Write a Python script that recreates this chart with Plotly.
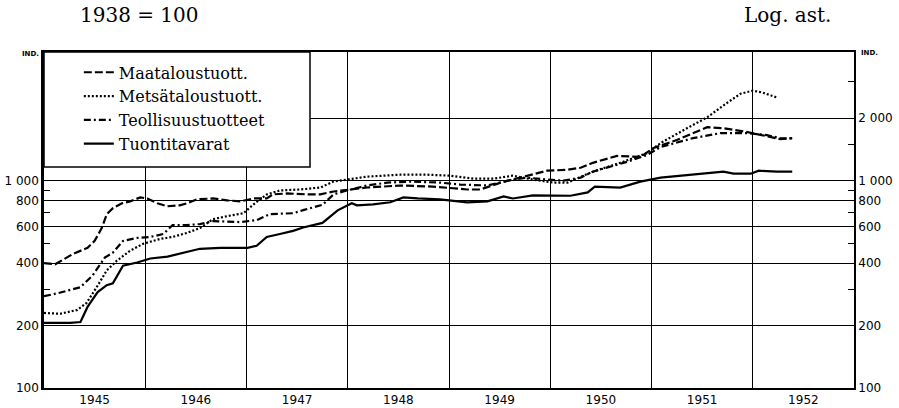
import plotly.graph_objects as go

# ---- data (index, 1938 = 100) ----
maat_t = [1945.0, 1945.11, 1945.29, 1945.43, 1945.50, 1945.57, 1945.62, 1945.68, 1945.77, 1945.85,
          1945.95, 1946.02, 1946.12, 1946.22, 1946.34, 1946.41, 1946.51, 1946.67, 1946.81, 1946.94,
          1947.07, 1947.20, 1947.26, 1947.40, 1947.60, 1947.73, 1947.86, 1948.19, 1948.52, 1948.84,
          1949.18, 1949.31, 1949.51, 1949.77, 1949.97, 1950.17, 1950.30, 1950.42, 1950.66, 1950.89,
          1951.02, 1951.25, 1951.55, 1951.71, 1951.95, 1952.14, 1952.27, 1952.39]
maat_v = [400, 395, 444, 474, 512, 590, 689, 736, 777, 794,
          830, 820, 777, 752, 760, 777, 812, 820, 803, 794,
          820, 820, 858, 867, 858, 858, 886, 926, 947, 936,
          906, 906, 978, 1056, 1116, 1128, 1153, 1218, 1315, 1301,
          1436, 1568, 1809, 1788, 1712, 1638, 1585, 1602]

mets_t = [1945.0, 1945.16, 1945.33, 1945.42, 1945.52, 1945.62, 1945.72, 1945.85, 1945.98, 1946.15,
          1946.27, 1946.41, 1946.54, 1946.67, 1946.81, 1946.97, 1947.07, 1947.20, 1947.33, 1947.53,
          1947.73, 1947.86, 1948.19, 1948.52, 1948.78, 1949.01, 1949.24, 1949.44, 1949.63, 1949.83,
          1950.03, 1950.17, 1950.42, 1950.69, 1950.96, 1951.09, 1951.35, 1951.55, 1951.75, 1951.88,
          1952.00, 1952.10, 1952.24]
mets_v = [230, 228, 238, 257, 306, 369, 411, 459, 496, 524,
          535, 559, 590, 652, 674, 696, 768, 858, 896, 906,
          926, 989, 1045, 1068, 1068, 1056, 1022, 1022, 1056, 1011,
          978, 978, 1104, 1218, 1359, 1517, 1788, 2018, 2377, 2625,
          2713, 2655, 2513]

teol_t = [1945.0, 1945.13, 1945.36, 1945.48, 1945.60, 1945.68, 1945.78, 1945.92, 1946.05, 1946.18,
          1946.27, 1946.41, 1946.54, 1946.67, 1946.94, 1947.10, 1947.23, 1947.46, 1947.56, 1947.75,
          1947.86, 1947.99, 1948.19, 1948.39, 1948.62, 1948.91, 1949.11, 1949.38, 1949.58, 1949.77,
          1949.97, 1950.13, 1950.30, 1950.42, 1950.76, 1950.96, 1951.09, 1951.41, 1951.68, 1951.95,
          1952.14, 1952.27, 1952.39]
teol_v = [277, 286, 306, 349, 425, 449, 512, 529, 535, 553,
          610, 610, 617, 638, 631, 645, 689, 696, 720, 764,
          858, 896, 947, 978, 989, 978, 957, 947, 1000, 1033,
          1011, 1000, 1033, 1104, 1232, 1330, 1452, 1602, 1693, 1693,
          1656, 1602, 1595]

tuon_t = [1945.0, 1945.26, 1945.36, 1945.43, 1945.53, 1945.62, 1945.68, 1945.78, 1945.92, 1946.05,
          1946.22, 1946.34, 1946.54, 1946.74, 1947.01, 1947.10, 1947.20, 1947.33, 1947.46, 1947.56,
          1947.75, 1947.90, 1948.04, 1948.09, 1948.25, 1948.42, 1948.55, 1948.69, 1948.91, 1949.18,
          1949.38, 1949.54, 1949.63, 1949.83, 1950.03, 1950.20, 1950.37, 1950.44, 1950.69, 1950.89,
          1951.09, 1951.41, 1951.71, 1951.81, 1951.98, 1952.06, 1952.24, 1952.39]
tuon_v = [206, 206, 208, 246, 290, 313, 320, 389, 403, 421,
          430, 444, 469, 474, 474, 485, 535, 553, 572, 594,
          625, 719, 777, 760, 768, 786, 830, 820, 812, 786,
          794, 839, 820, 848, 850, 845, 877, 936, 926, 989,
          1033, 1068, 1104, 1080, 1080, 1116, 1104, 1104]

series_names = ["Maataloustuott.", "Metsätaloustuott.", "Teollisuustuotteet", "Tuontitavarat"]
year_labels = ["1945", "1946", "1947", "1948", "1949", "1950", "1951", "1952"]
y_tick_vals = [100, 200, 400, 600, 800, 1000, 2000]
y_left_text = ["100", "200", "400", "600", "800", "1 000", ""]
y_right_text = ["100", "200", "400", "600", "800", "1 000", "2 000"]
y_minor_vals = [300, 500, 700, 900, 1500, 3000]

# ---- figure ----
fig = go.Figure()
styles = ["8px,3px", "2px,2px", "7px,3px,2px,3px", "solid"]
for name, t, v, dash in zip(series_names, [maat_t, mets_t, teol_t, tuon_t],
                            [maat_v, mets_v, teol_v, tuon_v], styles):
    fig.add_trace(go.Scatter(x=t, y=v, mode="lines", name=name,
                             line=dict(color="black", width=2.2, dash=dash)))

# invisible trace to activate the right-hand axis
fig.add_trace(go.Scatter(x=[maat_t[0]], y=[maat_v[0]], yaxis="y2", mode="markers",
                         marker=dict(opacity=0), showlegend=False, hoverinfo="skip"))

tick_font = dict(family="DejaVu Sans", size=12, color="black")
yrange = [2, 3.62]

fig.update_layout(
    width=899, height=408,
    margin=dict(l=44, r=45, t=52, b=20, autoexpand=False),
    paper_bgcolor="white", plot_bgcolor="white",
    showlegend=True,
    legend=dict(x=0.043, y=0.99, xanchor="left", yanchor="top",
                bgcolor="rgba(0,0,0,0)", borderwidth=0,
                font=dict(family="DejaVu Serif", size=16, color="black"),
                tracegroupgap=0),
    xaxis=dict(range=[1945, 1953], tickmode="array", automargin=False,
               tickvals=[y + 0.5 for y in range(1945, 1953)], ticktext=year_labels,
               ticks="", showgrid=False, zeroline=False,
               showline=True, linecolor="black", linewidth=2, mirror=True,
               tickfont=tick_font,
               minor=dict(tickmode="array", tickvals=list(range(1946, 1953)),
                          showgrid=True, gridcolor="black", gridwidth=1.3, ticks="")),
    yaxis=dict(type="log", range=yrange, tickmode="array", automargin=False,
               tickvals=y_tick_vals, ticktext=y_left_text,
               showgrid=True, gridcolor="black", gridwidth=1.2, zeroline=False,
               showline=True, linecolor="black", linewidth=2.5,
               ticks="", tickfont=tick_font,
               minor=dict(tickmode="array", tickvals=y_minor_vals, ticks="inside",
                          ticklen=6, tickcolor="black", tickwidth=1.3, showgrid=False)),
    yaxis2=dict(type="log", range=yrange, overlaying="y", side="right", automargin=False,
                tickmode="array", tickvals=y_tick_vals, ticktext=y_right_text,
                showgrid=False, zeroline=False,
                showline=True, linecolor="black", linewidth=1.8,
                ticks="", tickfont=tick_font,
                minor=dict(tickmode="array", tickvals=y_minor_vals, ticks="inside",
                           ticklen=6, tickcolor="black", tickwidth=1.3, showgrid=False)),
    shapes=[dict(type="rect", xref="paper", yref="paper",
                 x0=0, x1=(310 - 44) / 810, y0=(388 - 167) / 336, y1=1,
                 fillcolor="white", line=dict(color="black", width=1.5), layer="above")],
    annotations=[
        dict(text="1938 = 100", xref="paper", yref="paper", x=(78 - 44) / 810, y=(388 - 15) / 336,
             xanchor="left", yanchor="middle", showarrow=False,
             font=dict(family="DejaVu Serif", size=20, color="black")),
        dict(text="Log. ast.", xref="paper", yref="paper", x=(833 - 44) / 810, y=(388 - 15) / 336,
             xanchor="right", yanchor="middle", showarrow=False,
             font=dict(family="DejaVu Serif", size=20, color="black")),
        dict(text="<b>IND.</b>", xref="paper", yref="paper", x=-0.004, y=(388 - 54) / 336,
             xanchor="right", yanchor="middle", showarrow=False,
             font=dict(family="DejaVu Sans", size=7, color="black")),
        dict(text="<b>IND.</b>", xref="paper", yref="paper", x=1.006, y=(388 - 53) / 336,
             xanchor="left", yanchor="middle", showarrow=False,
             font=dict(family="DejaVu Sans", size=7, color="black")),
    ],
)

# remove the default 8px page margin so the figure fills the window exactly
fig.write_html("out.html", config={"displayModeBar": False},
               post_script="document.body.style.margin='0';")
